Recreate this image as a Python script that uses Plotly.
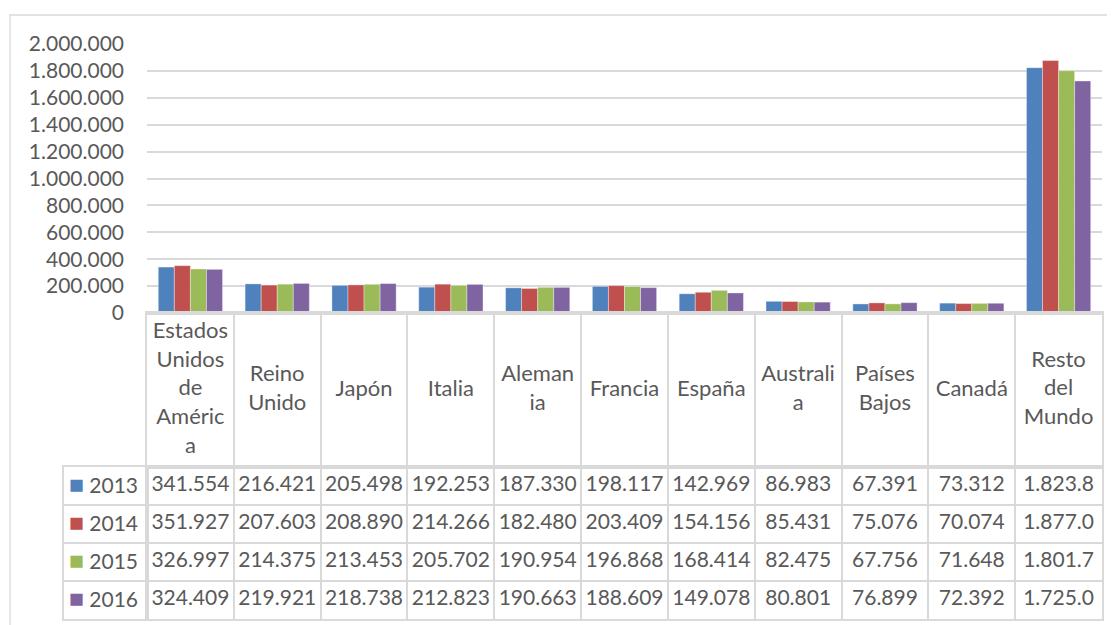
import plotly.graph_objects as go

# ---------------- data ----------------
categories = ["Estados Unidos de América", "Reino Unido", "Japón", "Italia", "Alemania",
              "Francia", "España", "Australia", "Países Bajos", "Canadá", "Resto del Mundo"]
category_labels = ["Estados<br>Unidos<br>de<br>Améric<br>a", "Reino<br>Unido", "Japón", "Italia",
                   "Aleman<br>ia", "Francia", "España", "Australi<br>a", "Países<br>Bajos",
                   "Canadá", "Resto<br>del<br>Mundo"]
years = ["2013", "2014", "2015", "2016"]
v2013 = [341554, 216421, 205498, 192253, 187330, 198117, 142969, 86983, 67391, 73312, 1823800]
v2014 = [351927, 207603, 208890, 214266, 182480, 203409, 154156, 85431, 75076, 70074, 1877000]
v2015 = [326997, 214375, 213453, 205702, 190954, 196868, 168414, 82475, 67756, 71648, 1801700]
v2016 = [324409, 219921, 218738, 212823, 190663, 188609, 149078, 80801, 76899, 72392, 1725000]
series = [v2013, v2014, v2015, v2016]
colors = ["#4F81BD", "#C0504D", "#9BBB59", "#8064A2"]
y_max = 2000000
y_step = 200000

# ---------------- layout geometry (pixels in the screenshot) ----------------
W, H = 1115, 625
OFF = 8  # page body margin
def px(x):
    return (x - OFF) / W
def py(y):
    return 1 - (y - OFF) / H

X0, X1 = 147, 1102       # plot area / table columns
LEG0 = 64                # legend column left edge
Y_TOP, Y_ZERO = 44, 313  # bar plot area
Y_CAT = 467              # bottom of category label band
Y_TAB = 619              # bottom of table

FONT = "Lato, 'Open Sans', sans-serif"
TXT = "#595959"
GRID = "#d9d9d9"
FS = 21

def fmt(v):
    s = f"{v:,}".replace(",", ".")
    return s[:7]  # cell clips long numbers

n_cat = len(categories)
n_rows = len(years)

fig = go.Figure()

# bars
for name, vals, c in zip(years, series, colors):
    fig.add_trace(go.Bar(x=categories, y=vals, name=name, marker_color=c,
                         marker_line_width=0.6, marker_line_color="rgba(255,255,255,0.6)",
                         xaxis="x", yaxis="y"))

# table body text
for name, vals in zip(years, series):
    fig.add_trace(go.Scatter(x=categories, y=[name] * n_cat, text=[fmt(v) for v in vals],
                             mode="text", textposition="middle center",
                             textfont=dict(family=FONT, size=FS, color=TXT),
                             xaxis="x2", yaxis="y2", hoverinfo="skip", cliponaxis=False))

# category label band
fig.add_trace(go.Scatter(x=categories, y=[0] * n_cat, text=category_labels,
                         mode="text", textposition="middle center",
                         textfont=dict(family=FONT, size=22, color=TXT),
                         xaxis="x3", yaxis="y3", hoverinfo="skip", cliponaxis=False))

# legend column grid (invisible trace to keep axis alive)
fig.add_trace(go.Scatter(x=[0.5] * n_rows, y=years, mode="markers", marker=dict(opacity=0),
                         xaxis="x4", yaxis="y4", hoverinfo="skip"))

grid_line = dict(showgrid=True, gridcolor=GRID, gridwidth=1.5, showline=True, linecolor=GRID,
                 linewidth=1.5, mirror=True, zeroline=False, ticks="", automargin=False)
cat_range = [-0.5, n_cat - 0.5]
row_range = [n_rows - 0.5, -0.5]

fig.update_layout(
    template="none",
    width=W, height=H, margin=dict(l=0, r=0, t=0, b=0, pad=0, autoexpand=False),
    paper_bgcolor="white", plot_bgcolor="white",
    showlegend=False, barmode="group", bargap=0.26, bargroupgap=0,
    separators=",.",
    font=dict(family=FONT, size=FS, color=TXT),
    xaxis=dict(domain=[px(X0), px(X1)], anchor="y", type="category", categoryarray=categories,
               range=cat_range, showticklabels=False, showgrid=False, zeroline=False, ticks="",
               automargin=False, showline=True, linecolor=GRID, linewidth=1.5),
    yaxis=dict(domain=[py(Y_ZERO), py(Y_TOP)], anchor="x", range=[0, y_max], dtick=y_step,
               tickformat=",d", showgrid=True, gridcolor=GRID, gridwidth=1.5, zeroline=False,
               showline=False, ticks="", ticklabelstandoff=22, automargin=False,
               tickfont=dict(family=FONT, size=FS, color=TXT)),
    xaxis2=dict(domain=[px(X0), px(X1)], anchor="y2", matches="x", type="category",
                tickson="boundaries", showticklabels=False, **grid_line),
    yaxis2=dict(domain=[py(Y_TAB), py(Y_CAT)], anchor="x2", type="category",
                categoryarray=years, range=row_range, tickson="boundaries",
                tickvals=years,
                ticktext=[f"<span style='color:{c};font-size:25px'>■</span> {y}"
                          for y, c in zip(years, colors)],
                ticklabelstandoff=3,
                tickfont=dict(family=FONT, size=FS, color=TXT), **grid_line),
    xaxis3=dict(domain=[px(X0), px(X1)], anchor="y3", matches="x", type="category",
                tickson="boundaries", showticklabels=False, **grid_line),
    yaxis3=dict(domain=[py(Y_CAT), py(Y_ZERO)], anchor="x3", range=[-1, 1], automargin=False,
                showticklabels=False, showgrid=False, zeroline=False, ticks="",
                showline=True, linecolor=GRID, linewidth=1.5, mirror=True),
    xaxis4=dict(domain=[px(LEG0), px(X0)], anchor="y4", range=[0, 1], showticklabels=False,
                showgrid=False, zeroline=False, ticks="", showline=True, linecolor=GRID,
                linewidth=1.5, mirror=True, automargin=False),
    yaxis4=dict(domain=[py(Y_TAB), py(Y_CAT)], anchor="x4", matches="y2", type="category",
                categoryarray=years, tickson="boundaries", showticklabels=False, **grid_line),
    shapes=[dict(type="rect", xref="paper", yref="paper", x0=px(10), y0=py(640),
                 x1=px(1130), y1=py(15), line=dict(color=GRID, width=1.3), layer="below")],
)

fig.write_html("out.html")
